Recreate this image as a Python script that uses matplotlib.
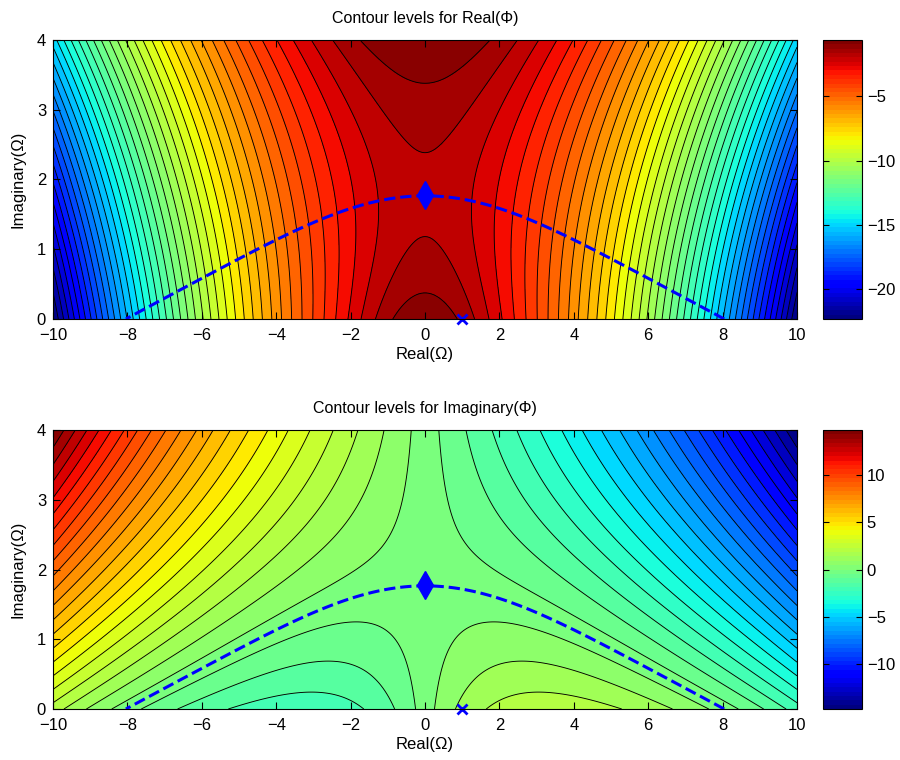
import numpy as np
import matplotlib
matplotlib.use("Agg")
from matplotlib import pyplot as plt
from matplotlib import cm, colors

## phase function, coefficients matched to the reference contours
# Phi(W) = -a W^2 + i b W - h log(1 - i W / s) + i e W^3 + c0
a = 0.16624
b = -0.2583
h = 2.88592
s = 1.78657
e = -0.00351
c0 = -0.677

saddle = [0.0, 1.78]      # Real, Imag of the saddle point
pole = [1.0, 0.0]         # marked point on the real axis
n_levels = 42

x_range = [-10, 10]
y_range = [0, 4]
x_ticks = [-10, -8, -6, -4, -2, 0, 2, 4, 6, 8, 10]
y_ticks = [0, 1, 2, 3, 4]
cbar_ticks_re = [-20, -15, -10, -5]
cbar_ticks_im = [-10, -5, 0, 5, 10]

titles = ["Contour levels for Real(\u03a6)", "Contour levels for Imaginary(\u03a6)"]

plt.rcParams['font.family'] = ['Liberation Sans', 'DejaVu Sans']

x = np.linspace(x_range[0], x_range[1], 400)
y = np.linspace(y_range[0], y_range[1], 161)
X, Y = np.meshgrid(x, y)
W = X + 1j*Y
Phi = -a*W**2 + 1j*b*W - h*np.log(1 - 1j*W/s) + 1j*e*W**3 + c0

# steepest descent path: Imag(Phi) = 0 away from the imaginary axis
path = np.imag(Phi)/X

def minus(t):
	return str(t).replace('-', '\u2212')

fig = plt.figure(figsize=(9, 7.6), dpi=100)

panels = [(np.real(Phi), cbar_ticks_re, 0.5803), (np.imag(Phi), cbar_ticks_im, 0.0671)]

for i, (Z, cticks, bottom) in enumerate(panels):
	ax = fig.add_axes([0.0589, bottom, 0.8267, 0.3671])
	zmin, zmax = Z.min(), Z.max()
	levels = np.linspace(zmin, zmax, n_levels + 2)
	norm = colors.Normalize(zmin, zmax)
	ax.contourf(X, Y, Z, levels=levels, cmap='jet', norm=norm)
	ax.contour(X, Y, Z, levels=levels[1:-1], colors='k', linewidths=0.65,
	           negative_linestyles='solid')
	ax.contour(X, Y, path, levels=[0], colors='b', linewidths=2.2, linestyles='--')
	ax.plot(saddle[0], saddle[1], 'bd', markersize=14)
	ax.plot(pole[0], pole[1], 'bx', markersize=7, markeredgewidth=2, clip_on=False)
	ax.set_xlim(x_range)
	ax.set_ylim(y_range)
	ax.set_xticks(x_ticks)
	ax.set_yticks(y_ticks)
	ax.set_xticklabels([minus(t) for t in x_ticks])
	ax.tick_params(direction='in', top=True, right=True, labelsize=12, length=5)
	ax.tick_params(axis='x', pad=6.5)
	ax.tick_params(axis='y', pad=5)
	ax.set_xlabel("Real(\u03a9)", fontsize=12, labelpad=3)
	ax.set_ylabel("Imaginary(\u03a9)", fontsize=12, labelpad=8)
	ax.set_title(titles[i], fontsize=11.5, pad=12)

	cax = fig.add_axes([0.9144, bottom, 0.0433, 0.3671])
	sm = cm.ScalarMappable(norm=norm, cmap=plt.get_cmap('jet', 64))
	cb = fig.colorbar(sm, cax=cax, ticks=cticks)
	cb.ax.tick_params(direction='in', labelsize=12, length=4, left=True, right=True)
	cb.ax.set_yticklabels([minus(t) for t in cticks])

fig.savefig("out.png", dpi=100)
